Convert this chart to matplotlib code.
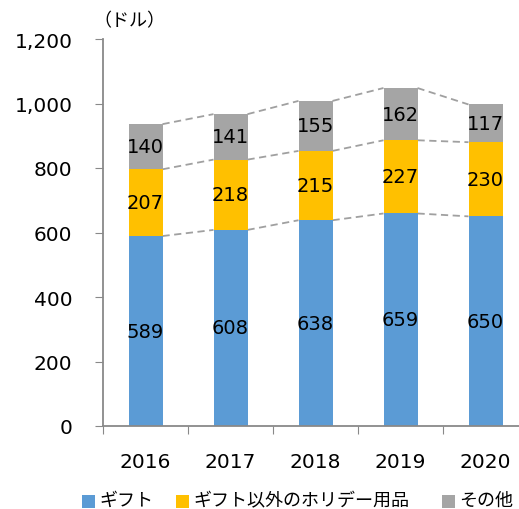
import matplotlib
matplotlib.use("Agg")
import matplotlib.pyplot as plt
from matplotlib.patches import Rectangle
import numpy as np

plt.rcParams['font.family'] = ['Noto Sans CJK JP', 'DejaVu Sans']
NUMFONT = ['DejaVu Sans']

years = ['2016', '2017', '2018', '2019', '2020']
gift = [589, 608, 638, 659, 650]
holiday = [207, 218, 215, 227, 230]
other = [140, 141, 155, 162, 117]
series_names = ['ギフト', 'ギフト以外のホリデー用品', 'その他']
colors = ['#5B9BD5', '#FFC000', '#A5A5A5']
yticks = [0, 200, 400, 600, 800, 1000, 1200]

W, H = 519, 510
fig = plt.figure(figsize=(W/100, H/100), dpi=100)
ax_left, ax_right, ax_top, ax_bottom = 103, 528, 40, 427
ax = fig.add_axes([ax_left/W, 1 - ax_bottom/H, (ax_right-ax_left)/W, (ax_bottom-ax_top)/H])

x = np.arange(len(years))
bw = 0.4
series = [gift, holiday, other]
bottom = np.zeros(len(years))
for vals, col in zip(series, colors):
    vals = np.array(vals, dtype=float)
    ax.bar(x, vals, bw, bottom=bottom, color=col, zorder=2)
    for xi, b, v in zip(x, bottom, vals):
        ax.text(xi, b + v/2, f'{int(v)}', ha='center', va='center', fontsize=14,
                family=NUMFONT, color='black', zorder=3)
    bottom = bottom + vals
    for i in range(len(years)-1):
        ax.plot([x[i] + bw/2, x[i+1] - bw/2], [bottom[i], bottom[i+1]],
                color='#A0A0A0', lw=1.3, ls=(0, (4, 2.5)), zorder=1)

ax.set_xlim(-0.5, len(years) - 0.5)
ax.set_ylim(0, 1200)
ax.set_yticks(yticks)
ax.set_yticklabels([f'{v:,}' for v in yticks], fontsize=14.5, family=NUMFONT)
ax.set_xticks(np.arange(len(years) + 1) - 0.5, minor=False)
ax.set_xticklabels([])
ax.set_xticks(x, minor=True)
ax.set_xticklabels(years, minor=True, fontsize=14.5, family=NUMFONT)
ax.tick_params(axis='x', which='minor', length=0, pad=19)
ax.tick_params(axis='x', which='major', length=6, color='#898989', direction='out')
ax.tick_params(axis='y', length=6, color='#898989', direction='out', pad=16)
for s in ['top', 'right']:
    ax.spines[s].set_visible(False)
for s in ['left', 'bottom']:
    ax.spines[s].set_color('#898989')
    ax.spines[s].set_linewidth(1.3)

fig.text(93/W, 1 - 21/H, '（ドル）', fontsize=13, ha='left', va='center')

# legend placed manually (pixel layout of the reference)
sq_x = [82, 176, 442]
sq = 13
leg_y = 502
for px, name, col in zip(sq_x, series_names, colors):
    fig.add_artist(Rectangle((px/W, 1 - (leg_y + sq/2)/H), sq/W, sq/H,
                             transform=fig.transFigure, facecolor=col, edgecolor='none'))
    fig.text((px + sq + 4)/W, 1 - (leg_y - 1)/H, name, fontsize=13, ha='left', va='center')

fig.savefig('out.png', dpi=100)
